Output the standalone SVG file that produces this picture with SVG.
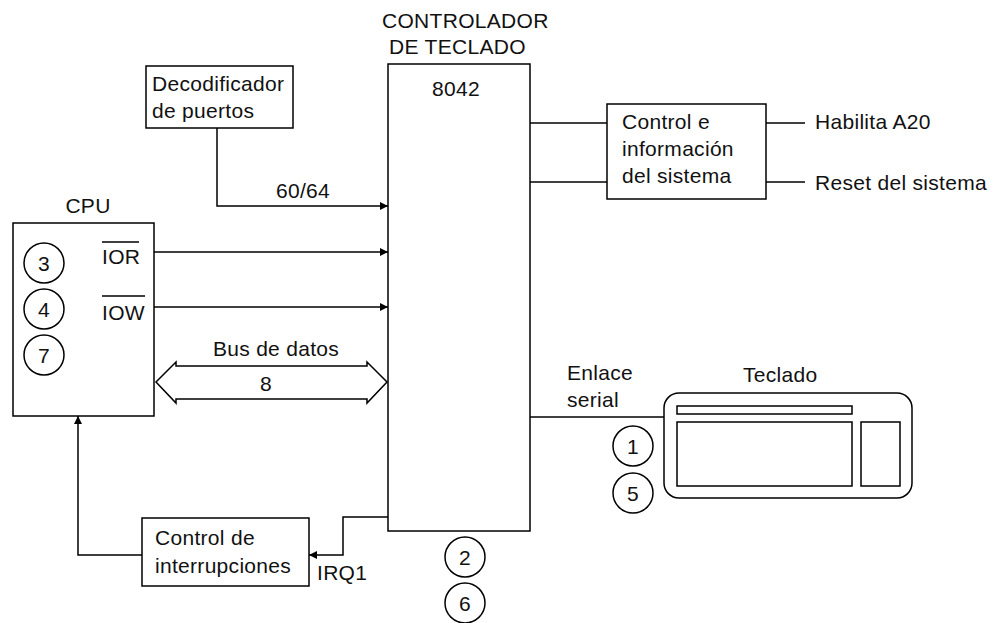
<svg xmlns="http://www.w3.org/2000/svg" width="999" height="623" viewBox="0 0 999 623">
  <style>
    .box { fill: none; stroke: #000; stroke-width: 1.5; }
    .ln { fill: none; stroke: #000; stroke-width: 1.5; }
    .t { font-family: "Liberation Sans", Arial, sans-serif; font-size: 21px; letter-spacing: 0.3px; fill: #111; }
    .c { text-anchor: middle; }
  </style>
  <defs>
    <marker id="ah" viewBox="0 0 10 10" refX="10" refY="5" markerWidth="8" markerHeight="8" markerUnits="userSpaceOnUse" orient="auto">
      <path d="M0,0 L10,5 L0,10 Z" fill="#000"/>
    </marker>
  </defs>
  <rect width="999" height="623" fill="#fff"/>

  <!-- Keyboard controller 8042 -->
  <g id="controlador">
    <text class="t" x="382" y="28">CONTROLADOR</text>
    <text class="t" x="389" y="54">DE TECLADO</text>
    <rect class="box" x="388" y="64" width="142" height="467"/>
    <text class="t c" x="456" y="96">8042</text>
  </g>

  <!-- Port decoder -->
  <g id="decodificador">
    <rect class="box" x="146" y="66" width="147" height="62"/>
    <text class="t" x="152" y="91">Decodificador</text>
    <text class="t" x="152" y="118">de puertos</text>
  </g>

  <!-- CPU -->
  <g id="cpu">
    <text class="t c" x="88" y="213">CPU</text>
    <rect class="box" x="13" y="223" width="141" height="193"/>
    <circle class="ln" cx="44" cy="263" r="20"/>
    <text class="t c" x="44" y="271">3</text>
    <circle class="ln" cx="44" cy="309" r="20"/>
    <text class="t c" x="44" y="317">4</text>
    <circle class="ln" cx="44" cy="355" r="20"/>
    <text class="t c" x="44" y="363">7</text>
    <text class="t" x="102" y="264">IOR</text>
    <line class="ln" x1="102" y1="242" x2="139" y2="242"/>
    <text class="t" x="102" y="320">IOW</text>
    <line class="ln" x1="102" y1="296" x2="145" y2="296"/>
  </g>

  <!-- Interrupt controller -->
  <g id="interrupciones">
    <rect class="box" x="142" y="518" width="167" height="68"/>
    <text class="t" x="155" y="545">Control de</text>
    <text class="t" x="155" y="573">interrupciones</text>
  </g>

  <!-- System control -->
  <g id="control-sistema">
    <rect class="box" x="607" y="104" width="159" height="95"/>
    <text class="t" x="622" y="129">Control e</text>
    <text class="t" x="622" y="156">información</text>
    <text class="t" x="622" y="183">del sistema</text>
  </g>

  <!-- Keyboard -->
  <g id="teclado">
    <text class="t" x="743" y="382">Teclado</text>
    <rect class="box" x="664" y="393" width="248" height="105" rx="15" ry="15"/>
    <rect class="box" x="677" y="406" width="175" height="8"/>
    <rect class="box" x="677" y="422" width="175" height="64"/>
    <rect class="box" x="861" y="422" width="39" height="64"/>
  </g>

  <!-- Step markers -->
  <g id="pasos">
    <circle class="ln" cx="633" cy="446" r="20"/>
    <text class="t c" x="633" y="454">1</text>
    <circle class="ln" cx="633" cy="493" r="20"/>
    <text class="t c" x="633" y="501">5</text>
    <circle class="ln" cx="465" cy="557" r="20"/>
    <text class="t c" x="465" y="565">2</text>
    <circle class="ln" cx="465" cy="603" r="20"/>
    <text class="t c" x="465" y="611">6</text>
  </g>

  <!-- Connectors -->
  <g id="conectores">
    <polyline class="ln" points="217,128 217,206 388,206" marker-end="url(#ah)"/>
    <text class="t" x="276" y="198">60/64</text>
    <line class="ln" x1="154" y1="252" x2="388" y2="252" marker-end="url(#ah)"/>
    <line class="ln" x1="154" y1="307" x2="388" y2="307" marker-end="url(#ah)"/>

    <!-- data bus, hollow double arrow -->
    <path class="ln" d="M156,382 L176,362 L176,366 L367,366 L367,362 L387,382 L367,403 L367,399 L176,399 L176,403 Z"/>
    <text class="t c" x="276" y="356">Bus de datos</text>
    <text class="t c" x="266" y="391">8</text>

    <polyline class="ln" points="388,517 343,517 343,555 309,555" marker-end="url(#ah)"/>
    <text class="t" x="317" y="580">IRQ1</text>
    <polyline class="ln" points="142,555 78,555 78,416" marker-end="url(#ah)"/>

    <line class="ln" x1="530" y1="123" x2="607" y2="123"/>
    <line class="ln" x1="530" y1="182" x2="607" y2="182"/>
    <line class="ln" x1="766" y1="123" x2="805" y2="123"/>
    <line class="ln" x1="766" y1="182" x2="805" y2="182"/>
    <text class="t" x="815" y="129">Habilita A20</text>
    <text class="t" x="815" y="190">Reset del sistema</text>

    <line class="ln" x1="530" y1="417" x2="664" y2="417"/>
    <text class="t" x="567" y="380">Enlace</text>
    <text class="t" x="567" y="407">serial</text>
  </g>
</svg>
